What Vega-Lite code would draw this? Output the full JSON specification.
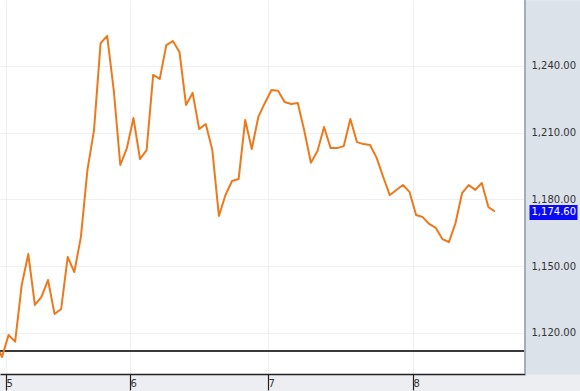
{
  "$schema": "https://vega.github.io/schema/vega-lite/v6.json",
  "width": 525,
  "height": 374,
  "autosize": {"type": "none"},
  "padding": {"left": 0, "top": 0, "right": 55, "bottom": 17},
  "background": "#eceef2",
  "config": {
    "view": {"fill": "white", "stroke": null},
    "font": "DejaVu Sans",
    "axis": {"labelFont": "DejaVu Sans", "labelFontSize": 10, "labelColor": "#333333", "title": null, "labelOverlap": false, "labelFlush": false, "labelBound": false}
  },
  "data": {"values": [
    {"i": -1, "v": 1115.3},
    {"i": 0, "v": 1109.2}, {"i": 1, "v": 1119.1}, {"i": 2, "v": 1116.1}, {"i": 3, "v": 1141.6},
    {"i": 4, "v": 1155.5}, {"i": 5, "v": 1132.6}, {"i": 6, "v": 1136.2}, {"i": 7, "v": 1143.8},
    {"i": 8, "v": 1128.5}, {"i": 9, "v": 1130.8}, {"i": 10, "v": 1154.2}, {"i": 11, "v": 1147.4},
    {"i": 12, "v": 1163.1}, {"i": 13, "v": 1193.3}, {"i": 14, "v": 1211.2}, {"i": 15, "v": 1250.3},
    {"i": 16, "v": 1253.5}, {"i": 17, "v": 1229.2}, {"i": 18, "v": 1195.5}, {"i": 19, "v": 1203.1},
    {"i": 20, "v": 1216.6}, {"i": 21, "v": 1198.2}, {"i": 22, "v": 1202.2}, {"i": 23, "v": 1236.0},
    {"i": 24, "v": 1234.2}, {"i": 25, "v": 1249.4}, {"i": 26, "v": 1251.2}, {"i": 27, "v": 1246.3},
    {"i": 28, "v": 1222.5}, {"i": 29, "v": 1227.9}, {"i": 30, "v": 1211.7}, {"i": 31, "v": 1213.9},
    {"i": 32, "v": 1202.2}, {"i": 33, "v": 1172.6}, {"i": 34, "v": 1182.0}, {"i": 35, "v": 1188.3},
    {"i": 36, "v": 1189.2}, {"i": 37, "v": 1215.7}, {"i": 38, "v": 1202.7}, {"i": 39, "v": 1217.1},
    {"i": 40, "v": 1223.4}, {"i": 41, "v": 1229.2}, {"i": 42, "v": 1228.9}, {"i": 43, "v": 1223.8},
    {"i": 44, "v": 1222.9}, {"i": 45, "v": 1223.4}, {"i": 46, "v": 1210.8}, {"i": 47, "v": 1196.5},
    {"i": 48, "v": 1201.8}, {"i": 49, "v": 1212.6}, {"i": 50, "v": 1203.1}, {"i": 51, "v": 1203.1},
    {"i": 52, "v": 1204.0}, {"i": 53, "v": 1216.2}, {"i": 54, "v": 1205.8}, {"i": 55, "v": 1204.9},
    {"i": 56, "v": 1204.5}, {"i": 57, "v": 1198.7}, {"i": 58, "v": 1190.1}, {"i": 59, "v": 1182.0},
    {"i": 60, "v": 1184.3}, {"i": 61, "v": 1186.5}, {"i": 62, "v": 1183.4}, {"i": 63, "v": 1173.0},
    {"i": 64, "v": 1172.1}, {"i": 65, "v": 1169.0}, {"i": 66, "v": 1167.2}, {"i": 67, "v": 1162.2},
    {"i": 68, "v": 1160.9}, {"i": 69, "v": 1169.4}, {"i": 70, "v": 1182.9}, {"i": 71, "v": 1186.5},
    {"i": 72, "v": 1184.3}, {"i": 73, "v": 1187.4}, {"i": 74, "v": 1176.6}, {"i": 75, "v": 1174.6}
  ]},
  "resolve": {"axis": {"y": "independent", "x": "independent"}},
  "layer": [
    {
      "mark": {"type": "rule", "color": "#3a3a3a", "strokeWidth": 1.5},
      "encoding": {
        "y": {"datum": 1111.9, "type": "quantitative",
          "axis": {"orient": "right", "offset": 28, "values": [1120, 1150, 1180, 1210, 1240, 1270],
            "grid": true, "gridColor": "#efefef", "gridWidth": 1,
            "domain": true, "domainColor": "#dce2ea", "domainWidth": 56,
            "labels": false, "ticks": false, "zindex": 0}}
      }
    },
    {
      "mark": {"type": "line", "color": "#ec7a1c", "strokeWidth": 2, "clip": true, "strokeJoin": "round"},
      "encoding": {
        "x": {"field": "i", "type": "quantitative",
          "scale": {"domain": [-0.304, 79.57], "nice": false, "zero": false},
          "axis": {"orient": "bottom", "values": [0.61, 19.47, 40.47, 62.53],
            "labelExpr": "datum.value < 5 ? '5' : datum.value < 30 ? '6' : datum.value < 50 ? '7' : '8'",
            "grid": true, "gridColor": "#efefef",
            "domain": true, "domainColor": "#222222", "domainWidth": 1.5,
            "ticks": true, "tickColor": "#222222", "tickSize": 16, "tickWidth": 1.2,
            "labelAlign": "left", "labelBaseline": "middle", "labelPadding": -7, "labelDx": 2}},
        "y": {"field": "v", "type": "quantitative",
          "scale": {"domain": [1101.57, 1269.66], "nice": false, "zero": false},
          "axis": {"orient": "right", "values": [1120, 1150, 1180, 1210, 1240, 1270], "format": ",.2f",
            "grid": false, "domain": false, "ticks": false, "tickSize": 0, "labelPadding": 6,
            "labelAlign": "left", "labelBaseline": "middle", "zindex": 1}}
      }
    },
    {
      "transform": [{"filter": "datum.i == 75"}],
      "mark": {"type": "point", "opacity": 0},
      "encoding": {
        "y": {"field": "v", "type": "quantitative",
          "axis": {"orient": "right", "offset": 4, "values": [1174.6], "format": ",.2f",
            "grid": false, "domain": false, "ticks": true, "tickSize": 48, "tickWidth": 15,
            "tickColor": "#0a0af5", "labelColor": "#ffffff", "labelPadding": -46,
            "labelAlign": "left", "labelBaseline": "middle", "zindex": 2}}
      }
    },
    {
      "mark": {"type": "rule", "color": "#a6adb8", "strokeWidth": 2},
      "encoding": {
        "x": {"datum": 79.57, "type": "quantitative", "axis": null}
      }
    }
  ]
}
